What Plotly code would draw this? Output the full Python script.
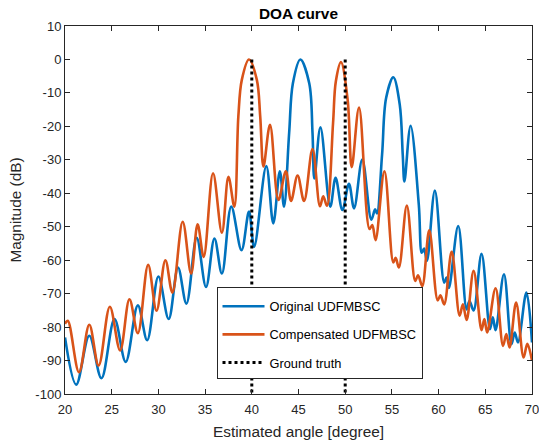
import plotly.graph_objects as go

# ---- data ----
angle_orig = [20.0, 21.2, 22.6, 23.9, 25.3, 26.5, 27.8, 28.8, 30.0, 31.1, 32.1, 33.0,
              34.1, 35.1, 36.0, 36.8, 37.8, 38.9, 39.7, 40.25, 41.55, 42.3, 43.0, 43.45,
              44.0, 44.4, 45.2, 46.15, 46.5, 46.7, 47.35, 48.4, 48.97, 49.7, 50.4, 50.95,
              51.83, 52.8, 53.2, 53.4, 53.95, 54.38, 55.15, 55.84, 56.16, 56.34, 57.0,
              57.88, 58.2, 58.45, 58.75, 59.6, 60.6, 60.85, 61.1, 62.1, 63.0, 63.3, 63.75,
              64.6, 65.5, 65.8, 66.1, 67.0, 67.8, 68.15, 68.5, 69.4, 70.0]
mag_orig = [-83.1, -97.2, -82.6, -95.3, -77.6, -90.4, -73.5, -83.9, -64.9, -77.6, -62.2, -73.0,
            -53.3, -68.0, -53.5, -64.0, -44.0, -57.0, -45.5, -56.0, -31.9, -49.0, -33.4, -44.0,
            -21.9, -7.1, 0.0, -7.1, -21.9, -35.6, -20.3, -44.0, -35.4, -45.0, -37.2, -44.5,
            -29.9, -47.9, -44.8, -46.0, -28.4, -11.5, -5.3, -13.5, -28.4, -36.5, -19.8,
            -43.4, -57.8, -56.5, -60.2, -39.2, -66.7, -65.2, -68.3, -49.8, -74.7, -72.2, -75.0,
            -58.1, -80.6, -77.1, -80.9, -64.2, -85.1, -81.6, -84.6, -69.7, -84.6]

angle_comp = [20.0, 20.3, 21.5, 22.6, 23.6, 24.8, 25.9, 26.9, 27.8, 28.9, 29.8, 30.75,
              31.5, 32.6, 33.5, 34.2, 34.85, 35.85, 36.8, 37.5, 38.13, 38.56, 38.93, 39.7,
              40.54, 40.9, 41.25, 41.95, 42.85, 43.65, 44.2, 44.9, 45.6, 46.5, 47.3, 47.65,
              48.05, 48.7, 49.0, 49.55, 50.26, 50.7, 51.48, 52.6, 52.9, 53.25, 54.2, 55.15,
              55.4, 55.75, 56.6, 57.5, 57.8, 58.25, 59.0, 59.9, 60.2, 60.6, 61.4, 62.25,
              62.6, 63.0, 63.75, 64.6, 64.9, 65.2, 66.1, 66.9, 67.25, 67.6, 68.3, 69.1,
              69.5, 70.0]
mag_comp = [-79.0, -78.1, -93.5, -79.3, -91.5, -73.9, -87.0, -71.7, -81.8, -61.4, -75.1, -60.0,
            -69.7, -48.5, -64.0, -49.3, -59.0, -34.0, -51.8, -35.1, -44.0, -17.0, -6.1, 0.0,
            -6.1, -17.0, -32.0, -19.5, -42.0, -33.4, -42.3, -34.7, -42.3, -26.8, -43.9, -40.9,
            -43.7, -19.0, -6.5, -0.8, -12.0, -32.2, -14.4, -50.7, -49.5, -54.0, -33.4, -60.7,
            -59.3, -62.2, -43.7, -66.2, -64.5, -67.7, -51.1, -72.0, -70.5, -73.2, -57.5, -76.6,
            -73.2, -77.9, -63.2, -80.9, -77.6, -81.6, -68.4, -85.6, -82.1, -86.1, -72.7, -89.1,
            -85.0, -90.0]

truth_angles = [40, 50]
truth_levels = [0, -100]

x_ticks = [20, 25, 30, 35, 40, 45, 50, 55, 60, 65, 70]
y_ticks = [10, 0, -10, -20, -30, -40, -50, -60, -70, -80, -90, -100]

# ---- build ground truth vertical segments ----
gt_x, gt_y = [], []
for a in truth_angles:
    gt_x += [a, a, None]
    gt_y += [truth_levels[0], truth_levels[1], None]

BLUE = '#0072BD'
ORANGE = '#D95319'
AX = '#262626'
FONT = 'Liberation Sans, Arial, Helvetica, sans-serif'

fig = go.Figure()
fig.add_trace(go.Scatter(x=angle_orig, y=mag_orig, mode='lines', name='Original UDFMBSC',
                         legendgroup='g1',
                         line=dict(color=BLUE, width=2.6, shape='spline', smoothing=1.0)))
fig.add_trace(go.Scatter(x=angle_comp, y=mag_comp, mode='lines', name='Compensated UDFMBSC',
                         legendgroup='g2',
                         line=dict(color=ORANGE, width=2.6, shape='spline', smoothing=1.0)))
fig.add_trace(go.Scatter(x=gt_x, y=gt_y, mode='lines', name='Ground truth',
                         legendgroup='g3',
                         line=dict(color='black', width=3, dash='dot')))

axis_common = dict(ticks='inside', ticklen=5, tickwidth=1, tickcolor=AX, showline=True,
                   linecolor=AX, linewidth=1, mirror='ticks', showgrid=False, zeroline=False,
                   ticklabeloverflow='allow', automargin=False,
                   tickfont=dict(size=13, color=AX, family=FONT))

fig.update_layout(
    width=539, height=444,
    margin=dict(l=65, r=7, t=26, b=50),
    paper_bgcolor='white', plot_bgcolor='white',
    font=dict(family=FONT, size=13, color=AX),
    title=dict(text='<b>DOA curve</b>', x=0.5, xref='paper', xanchor='center',
               y=1 - 14 / 444, yref='container', yanchor='middle',
               font=dict(size=15.4, color='black', family=FONT)),
    showlegend=True,
    legend=dict(x=(216.5 - 65) / 467, y=(394 - 286.5) / 368, xanchor='left', yanchor='top',
                bgcolor='white', bordercolor=AX, borderwidth=1,
                font=dict(size=12.8, color='black', family=FONT),
                traceorder='grouped', tracegroupgap=8.5, itemwidth=42,
                title=dict(text=' ', font=dict(size=3))),
    xaxis=dict(range=[20, 70], tickmode='array', tickvals=x_ticks,
               ticktext=[str(v) for v in x_ticks], ticklabelstandoff=3,
               title=dict(text='Estimated angle [degree]', standoff=10,
                          font=dict(size=15.4, color=AX, family=FONT)),
               **axis_common),
    yaxis=dict(range=[-100, 10], tickmode='array', tickvals=y_ticks,
               ticktext=[str(v) for v in y_ticks],
               title=dict(text='Magnitude (dB)', standoff=9,
                          font=dict(size=15.4, color=AX, family=FONT)),
               **axis_common),
)

fig.write_html('out.html')
